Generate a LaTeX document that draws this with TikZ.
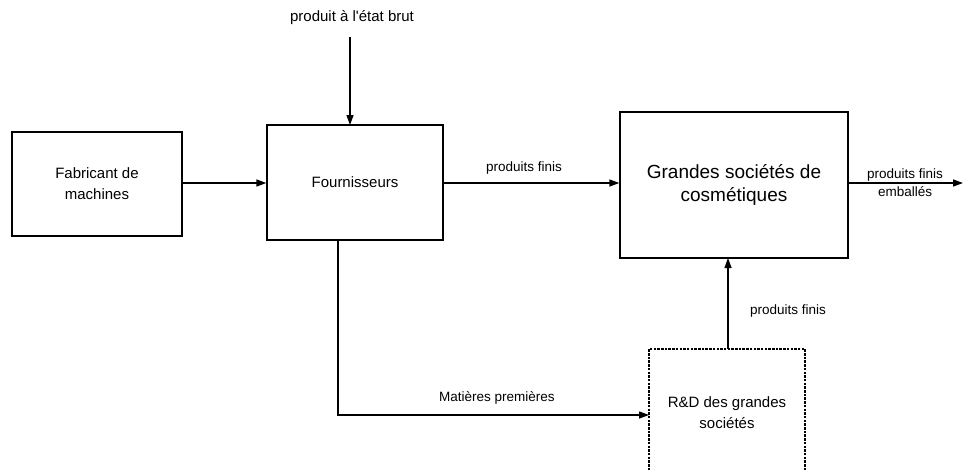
\documentclass[tikz,border=0pt]{standalone}
\usepackage{fontspec}
\setmainfont{Liberation Sans}
\newfontfamily\rawfont{Liberation Sans}
\usetikzlibrary{arrows.meta}
\begin{document}
\begin{tikzpicture}[x=1pt,y=-1pt,
  box/.style={draw,line width=1.3pt,align=center,inner sep=0pt,font=\fontsize{15}{21}\selectfont},
  dbox/.style={box,dash pattern=on 2.5pt off 1.2pt},
  lbl/.style={font=\fontsize{13.5}{18}\selectfont,inner sep=0pt,align=center},
  conn/.style={line width=1.3pt,-{Triangle[length=10pt,width=7pt]}},
  plain/.style={line width=1.3pt}]
\useasboundingbox (0,0) rectangle (963,469);
\clip (0,0) rectangle (963,469);
\node[box,minimum width=170,minimum height=104] (fab) at (97,184) {Fabricant de\\machines};
\node[box,minimum width=176,minimum height=115] (four) at (355,182.5) {Fournisseurs};
\node[box,minimum width=228,minimum height=146,font=\fontsize{19}{23}\selectfont] (gsc) at (734,185) {Grandes sociétés de\\cosmétiques};
\node[dbox,minimum width=156,minimum height=128] (rd) at (727,413) {R\&D des grandes\\sociétés};
\node[lbl,font=\rawfont\fontsize{15}{18}\selectfont] (brut) at (352,18) {produit à l'état brut};
\coordinate (brutend) at (350,37);
\coordinate (fourtop) at (350,125);
\coordinate (fourbot) at (338,240);
\coordinate (corner) at (338,415);
\coordinate (rdleft) at (649,415);
\coordinate (rdtop) at (728,349);
\coordinate (gscbot) at (728,258);
\coordinate (outend) at (963,183);
\draw[conn] (brutend) -- (fourtop);
\draw[conn] (fab.east |- 0,183) -- (four.west |- 0,183);
\draw[conn] (four.east |- 0,183) -- (gsc.west |- 0,183);
\draw[conn] (fourbot) -- (corner) -- (rdleft);
\draw[conn] (rdtop) -- (gscbot);
\draw[conn] (gsc.east |- 0,183) -- (outend);
\node[lbl] (l1) at (524,168) {produits finis};
\node[lbl] (l2) at (497,398) {Matières premières};
\node[lbl] (l3) at (788,311) {produits finis};
\node[lbl] (l4) at (905,182.5) {produits finis\\emballés};
\end{tikzpicture}
\end{document}
